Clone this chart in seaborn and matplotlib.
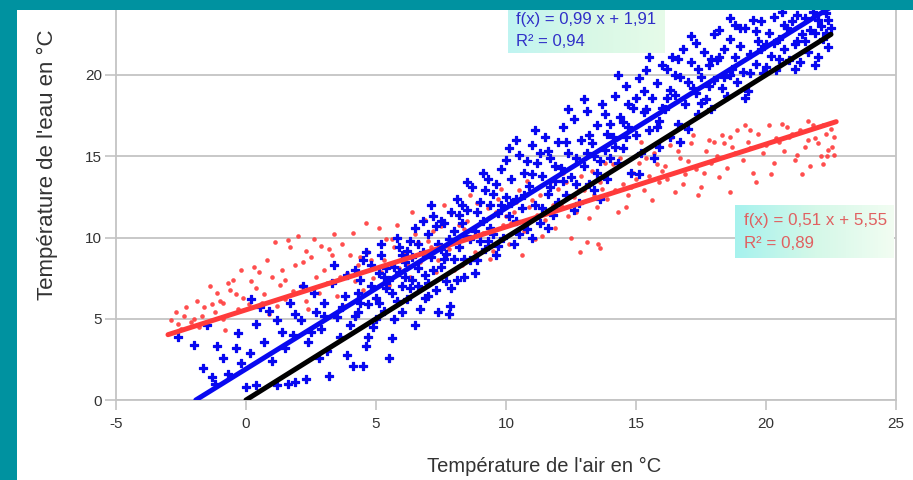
import numpy as np
import pandas as pd
import matplotlib
matplotlib.use("Agg")
import matplotlib.pyplot as plt
from matplotlib.patches import Rectangle
from matplotlib.colors import LinearSegmentedColormap
import seaborn as sns

# ---------------- data ----------------
# blue series: (air temperature, water temperature)
blue_points = [
    (-2.6, 3.9), (-2.0, 3.4), (-1.1, 3.3), (-1.65, 2.0), (-1.3, 1.4), (-1.2, 1.0), (-0.4, 3.2), (-0.2, 2.3),
    (-0.7, 1.6), (-1.5, 4.6), (-0.9, 2.6), (-0.3, 4.1),
    (0.0, 0.8), (0.15, 2.9), (0.4, 0.9), (0.4, 4.7), (0.55, 5.7), (0.9, 5.5), (1.2, 4.9), (1.4, 4.2), (1.7, 6.0),
    (1.2, 0.9), (1.6, 1.0), (1.9, 1.1), (0.7, 3.6), (1.0, 2.4), (1.5, 3.2), (1.9, 5.3), (0.2, 6.2), (1.8, 4.0),
    (2.3, 1.3), (2.1, 4.9), (2.6, 6.6), (2.7, 5.4), (3.2, 1.5), (2.4, 3.6), (2.9, 4.4), (3.0, 6.0), (3.3, 7.2),
    (3.5, 5.1), (3.6, 3.9), (3.8, 6.4), (2.2, 7.0), (3.1, 3.0), (3.9, 7.7), (3.4, 8.3), (2.8, 2.6), (3.7, 5.7),
    (4.0, 4.6), (3.9, 2.8), (3.0, 5.2), (2.5, 4.2), (4.7, 3.9),
    (4.1, 2.1), (4.5, 2.1), (4.6, 3.3), (4.2, 5.2), (4.3, 6.6), (4.4, 7.4), (4.5, 8.6), (4.7, 5.9), (4.8, 7.0),
    (4.9, 4.5), (5.0, 6.3), (5.1, 7.8), (5.2, 8.9), (5.3, 5.5), (5.4, 6.9), (5.5, 7.4), (5.6, 3.8), (5.7, 8.2),
    (5.8, 6.1), (5.9, 9.4), (6.0, 7.0), (4.2, 8.0), (4.6, 9.1), (5.0, 5.0), (5.3, 7.6), (5.6, 6.6), (5.8, 10.0),
    (6.0, 5.4), (4.4, 6.0), (5.2, 9.6), (5.5, 2.6), (5.9, 7.9), (4.3, 5.4), (4.8, 8.3), (5.1, 6.0), (5.4, 8.1),
    (5.7, 5.0), (6.0, 8.9),
    (6.1, 8.5), (6.2, 6.2), (6.3, 9.8), (6.4, 7.4), (6.5, 10.6), (6.6, 8.1), (6.7, 5.6), (6.8, 9.1), (6.9, 7.7),
    (7.0, 10.2), (7.1, 8.8), (7.2, 11.3), (7.3, 6.8), (7.4, 9.6), (7.5, 8.2), (7.6, 10.9), (7.7, 7.3), (7.8, 9.9),
    (7.9, 11.6), (8.0, 8.7), (6.2, 9.2), (6.5, 4.6), (6.8, 11.0), (7.0, 6.4), (7.3, 10.7), (7.6, 8.7), (7.9, 6.9),
    (6.4, 8.8), (7.1, 12.0), (7.5, 9.3), (7.8, 5.3), (6.6, 7.0), (7.4, 5.4), (8.0, 10.4), (7.85, 5.8),
    (6.3, 6.9), (6.6, 9.6), (6.9, 6.3), (7.2, 8.0), (7.5, 11.0), (7.7, 9.0), (6.1, 7.6), (7.0, 7.2),
    (8.1, 12.4), (8.2, 9.4), (8.3, 10.9), (8.4, 7.6), (8.5, 11.7), (8.6, 9.9), (8.7, 13.1), (8.8, 10.4), (8.9, 8.6),
    (9.0, 12.2), (9.1, 11.0), (9.2, 9.3), (9.3, 13.6), (9.4, 10.6), (9.5, 12.7), (9.6, 8.9), (9.7, 11.5),
    (9.8, 14.2), (9.9, 10.0), (10.0, 12.5), (8.2, 11.4), (8.5, 13.4), (8.8, 7.8), (9.1, 14.0), (9.4, 12.0),
    (9.7, 9.5), (10.0, 14.8), (8.4, 10.1), (9.0, 9.8), (9.6, 13.3), (8.1, 7.4), (8.3, 12.0), (8.6, 8.6),
    (8.9, 11.6), (9.2, 12.9), (9.5, 10.2), (9.8, 12.0), (8.4, 8.7), (9.3, 9.8),
    (10.1, 11.3), (10.2, 13.6), (10.3, 9.6), (10.4, 12.4), (10.5, 15.1), (10.6, 11.8), (10.7, 14.0), (10.8, 10.5),
    (10.9, 13.2), (11.0, 15.7), (11.1, 12.0), (11.2, 14.6), (11.3, 10.9), (11.4, 13.8), (11.5, 16.2), (11.6, 12.7),
    (11.7, 14.9), (11.8, 11.4), (11.9, 13.5), (12.0, 15.9), (10.2, 12.1), (10.5, 10.2), (10.8, 14.7), (11.1, 16.6),
    (11.4, 11.8), (11.7, 13.1), (12.0, 12.2), (10.4, 16.0), (11.0, 10.0), (11.6, 15.3), (10.1, 15.5), (10.4, 11.0),
    (10.7, 12.6), (11.0, 13.9), (11.3, 15.2), (11.6, 10.6), (11.9, 14.4),
    (12.1, 14.3), (12.2, 16.8), (12.3, 12.6), (12.4, 15.2), (12.5, 13.7), (12.6, 17.3), (12.7, 14.9), (12.8, 12.1),
    (12.9, 16.0), (13.0, 14.4), (13.1, 17.8), (13.2, 13.3), (13.3, 15.8), (13.4, 12.9), (13.5, 16.9), (13.6, 14.7),
    (13.7, 18.2), (13.8, 15.4), (13.9, 13.6), (14.0, 17.0), (12.2, 13.5), (12.6, 11.7), (13.0, 18.5), (13.4, 15.0),
    (13.8, 17.6), (12.4, 17.9), (13.2, 16.3), (13.6, 12.4), (14.0, 14.9), (12.3, 15.9), (12.7, 13.3), (13.1, 15.2),
    (13.5, 14.0), (13.9, 16.4),
    (14.1, 16.2), (14.2, 18.7), (14.3, 14.6), (14.4, 17.4), (14.5, 15.5), (14.6, 19.3), (14.7, 16.8), (14.8, 14.0),
    (14.9, 18.0), (15.0, 16.3), (15.1, 19.8), (15.2, 15.2), (15.3, 17.7), (15.4, 20.3), (15.5, 16.6), (15.6, 18.6),
    (15.7, 14.9), (15.8, 19.5), (15.9, 17.2), (16.0, 20.6), (14.3, 20.0), (14.7, 18.2), (15.1, 13.9), (15.5, 21.1),
    (15.9, 15.6), (14.5, 17.1), (15.3, 19.0), (16.0, 18.0), (14.2, 15.6), (14.6, 16.2), (15.0, 18.6), (15.4, 17.9),
    (15.8, 16.8),
    (16.1, 17.9), (16.2, 20.4), (16.3, 16.2), (16.4, 21.1), (16.5, 18.8), (16.6, 17.0), (16.7, 19.9), (16.8, 21.6),
    (16.9, 18.2), (17.0, 16.7), (17.1, 20.8), (17.2, 19.2), (17.3, 22.0), (17.4, 17.6), (17.5, 19.9), (17.6, 21.4),
    (17.7, 18.5), (17.8, 20.6), (17.9, 17.9), (18.0, 22.5), (16.3, 19.1), (16.7, 15.9), (17.1, 22.4), (17.5, 18.3),
    (17.9, 21.0), (16.5, 20.0), (17.3, 18.9), (18.0, 19.7), (16.2, 18.6), (16.6, 21.0), (17.0, 19.6), (17.4, 20.4),
    (17.8, 19.3),
    (18.1, 20.9), (18.2, 22.8), (18.3, 19.2), (18.4, 21.6), (18.5, 18.7), (18.6, 22.2), (18.7, 20.4), (18.8, 23.1),
    (18.9, 19.6), (19.0, 21.8), (19.1, 20.2), (19.2, 22.9), (19.3, 19.0), (19.4, 21.3), (19.5, 23.4), (19.6, 20.7),
    (19.7, 22.1), (19.8, 23.3), (19.9, 20.1), (20.0, 21.9), (18.4, 19.9), (18.8, 21.1), (19.2, 18.6), (19.6, 22.7),
    (20.0, 20.5), (18.6, 23.5), (18.2, 21.1), (18.6, 20.0), (19.0, 22.9), (19.4, 20.1), (19.8, 21.6),
    (20.1, 22.6), (20.2, 21.2), (20.3, 23.6), (20.4, 20.3), (20.5, 22.2), (20.6, 23.9), (20.7, 21.6), (20.8, 22.9),
    (20.9, 20.9), (21.0, 23.3), (21.1, 21.9), (21.2, 23.7), (21.3, 20.8), (21.4, 22.5), (21.5, 23.5), (21.6, 21.4),
    (21.7, 22.8), (21.8, 23.9), (21.9, 20.6), (22.0, 21.1), (22.1, 23.0), (22.2, 22.2), (22.3, 23.8), (22.4, 21.7),
    (22.5, 22.9), (20.5, 21.0), (21.2, 22.1), (22.0, 23.4), (22.4, 23.4), (20.3, 22.0), (20.7, 23.1), (21.1, 20.4),
    (21.5, 22.1), (21.9, 22.6), (22.3, 22.6),
]

# red series: (air temperature, water temperature)
red_points = [
    (-2.9, 4.9), (-2.7, 5.4), (-2.5, 4.4), (-2.3, 5.7), (-2.1, 4.8), (-1.9, 6.1), (-1.7, 5.2), (-1.5, 4.6),
    (-1.3, 5.9), (-1.1, 6.6), (-0.9, 5.0), (-0.7, 7.2), (-0.5, 7.4), (-0.3, 5.6), (-0.1, 6.3), (-2.0, 5.0),
    (-1.4, 7.0), (-0.8, 4.3), (-0.2, 8.0), (-1.0, 6.1), (-2.6, 4.7), (-0.6, 6.8), (-1.6, 5.7), (-0.9, 6.0),
    (-2.4, 5.2), (-1.8, 4.5), (-1.2, 5.4), (-0.4, 6.5),
    (0.1, 5.9), (0.3, 8.2), (0.5, 7.9), (0.7, 6.5), (0.9, 5.3), (1.1, 9.7), (1.3, 7.1), (1.5, 6.2), (1.6, 9.85),
    (1.7, 9.4), (1.9, 8.3), (2.1, 7.0), (2.3, 6.1), (2.5, 8.8), (2.7, 7.6), (2.9, 9.5), (0.4, 6.9), (0.8, 8.6),
    (1.2, 5.8), (2.0, 10.1), (2.4, 5.6), (2.8, 6.6), (0.2, 7.3), (1.4, 8.0), (2.6, 9.9), (1.0, 7.6), (1.8, 6.7),
    (2.2, 8.5), (0.6, 6.0), (1.5, 7.4), (2.3, 9.2),
    (3.1, 7.2), (3.3, 8.9), (3.5, 6.4), (3.7, 9.6), (3.9, 7.8), (4.1, 10.3), (4.3, 8.3), (4.5, 6.8), (4.7, 9.1),
    (4.9, 7.5), (5.1, 10.6), (5.3, 8.6), (5.5, 7.1), (5.7, 9.4), (5.9, 8.1), (3.4, 10.2), (3.8, 5.8), (4.2, 7.3),
    (4.6, 10.9), (5.0, 6.2), (5.4, 9.9), (5.8, 10.8), (3.0, 8.0), (4.4, 8.8), (5.2, 7.9), (5.6, 8.4),
    (3.2, 9.3), (3.6, 7.6), (4.0, 8.9), (4.8, 8.6), (5.6, 9.9),
    (6.1, 9.0), (6.3, 7.6), (6.5, 10.2), (6.7, 8.5), (6.9, 11.1), (7.1, 9.4), (7.3, 7.9), (7.5, 10.7), (7.7, 8.9),
    (7.9, 11.5), (8.1, 9.7), (8.3, 8.3), (8.5, 11.0), (8.7, 10.0), (8.9, 12.1), (6.4, 11.6), (6.8, 6.9),
    (7.2, 10.4), (7.6, 12.0), (8.0, 8.0), (8.4, 10.5), (8.8, 9.1), (6.2, 8.4), (7.0, 9.8), (7.8, 9.3), (8.6, 12.6),
    (6.6, 9.7), (7.4, 8.6), (8.2, 10.8),
    (9.1, 10.3), (9.3, 11.8), (9.5, 9.2), (9.7, 12.4), (9.9, 10.8), (10.1, 9.6), (10.3, 11.6), (10.5, 12.9),
    (10.7, 10.4), (10.9, 11.9), (11.1, 9.9), (11.3, 12.6), (11.5, 11.1), (11.7, 13.4), (11.9, 10.6), (9.4, 8.7),
    (9.8, 13.0), (10.2, 10.9), (10.6, 8.9), (11.0, 12.3), (11.4, 10.1), (11.8, 12.0), (9.2, 11.1), (10.0, 11.3),
    (10.8, 13.5), (11.6, 11.6), (9.6, 11.6), (10.4, 12.2), (11.2, 11.4),
    (12.1, 12.0), (12.3, 13.4), (12.5, 10.0), (12.7, 11.6), (12.85, 9.1), (13.0, 12.9), (13.1, 9.7), (13.3, 14.1),
    (13.5, 11.9), (13.6, 9.35), (13.7, 13.0), (13.9, 12.4), (14.1, 14.5), (14.3, 11.6), (14.5, 13.3), (14.7, 12.6),
    (14.9, 14.0), (12.2, 14.0), (12.6, 12.5), (13.2, 11.2), (13.8, 14.6), (14.2, 12.9), (14.6, 11.9), (15.0, 13.6),
    (12.9, 13.8), (13.4, 12.6), (14.4, 14.9), (12.4, 11.3), (13.55, 9.6), (12.0, 13.0), (12.8, 12.9), (13.6, 13.4),
    (14.8, 13.1),
    (15.1, 14.6), (15.3, 12.9), (15.5, 13.8), (15.7, 15.2), (15.9, 13.4), (16.1, 14.4), (16.3, 15.7), (16.5, 12.8),
    (16.7, 14.9), (16.9, 13.9), (17.1, 15.8), (17.3, 14.2), (17.5, 13.1), (17.7, 15.3), (17.9, 14.6), (15.2, 15.9),
    (15.6, 12.3), (16.0, 14.1), (16.4, 16.2), (16.8, 13.3), (17.2, 16.3), (17.6, 14.0), (18.0, 15.9), (15.8, 14.5),
    (16.6, 15.3), (17.4, 12.6), (15.4, 14.9), (16.2, 13.6), (17.0, 14.7), (17.8, 16.0),
    (18.1, 15.0), (18.3, 16.3), (18.5, 14.3), (18.6, 12.8), (18.7, 15.6), (18.9, 16.6), (19.1, 14.8), (19.3, 15.9),
    (19.5, 14.0), (19.7, 16.4), (19.9, 15.2), (20.1, 16.9), (20.3, 14.6), (18.2, 13.7), (18.8, 15.2), (19.2, 16.9),
    (19.6, 13.4), (20.0, 15.7), (20.4, 16.1), (18.4, 15.8), (19.4, 15.5), (20.2, 13.9), (18.6, 16.2), (19.4, 16.6),
    (20.6, 17.0), (20.7, 15.3), (20.9, 16.2), (21.1, 14.8), (21.3, 16.6), (21.5, 15.6), (21.6, 17.2), (21.7, 14.4),
    (21.9, 16.1), (22.1, 15.0), (22.2, 14.5), (22.3, 16.4), (22.4, 15.4), (22.5, 16.7), (22.6, 15.1), (20.8, 16.8),
    (21.2, 15.1), (21.8, 16.9), (22.0, 15.8), (22.6, 16.2), (21.4, 13.9), (22.35, 15.0), (20.5, 15.9), (21.0, 16.4),
    (21.6, 16.0), (22.2, 16.9), (22.55, 15.6),
]

# trend lines shown on the chart: slope, intercept, x extent
blue_trend = {"slope": 0.99, "intercept": 1.91, "x": [-1.93, 22.6]}
red_trend = {"slope": 0.51, "intercept": 5.55, "x": [-3.0, 22.7]}
identity_x = [0.0, 22.5]   # black reference line y = x

blue_label = ["f(x) = 0,99 x + 1,91", "R² = 0,94"]
red_label = ["f(x) = 0,51 x + 5,55", "R² = 0,89"]

x_ticks = [-5, 0, 5, 10, 15, 20, 25]
y_ticks = [0, 5, 10, 15, 20]
x_title = "Température de l'air en °C"
y_title = "Température de l'eau en °C"

# ---------------- build frames ----------------
blue_df = pd.DataFrame(blue_points, columns=["air", "eau"])
red_df = pd.DataFrame(red_points, columns=["air", "eau"])

def trend_df(t):
    xs = np.array(t["x"])
    return pd.DataFrame({"air": xs, "eau": t["slope"] * xs + t["intercept"]})

blue_line = trend_df(blue_trend)
red_line = trend_df(red_trend)
black_line = pd.DataFrame({"air": identity_x, "eau": identity_x})

# ---------------- style ----------------
sns.set_theme(style="white")
plt.rcParams['font.family'] = ['Liberation Sans', 'DejaVu Sans']
plt.rcParams['axes.unicode_minus'] = False

BLUE = "#0808f0"
RED = "#ff3b3b"
TEAL = "#0092a0"
GRID = "#c4c4c4"

fig = plt.figure(figsize=(9.13, 4.8), dpi=100)
fig.patch.set_facecolor("white")
ax = fig.add_axes([116 / 913, 80 / 480, 780 / 913, 390 / 480])
ax.set_facecolor("white")

# gradient label boxes (behind marks)
grad_blue = LinearSegmentedColormap.from_list("gb", ["#bff4f2", "#d8f8e6", "#e6fbe9"])
grad_red = LinearSegmentedColormap.from_list("gr", ["#a6f2ee", "#d4f8e8", "#f2fdf2"])
g = np.linspace(0, 1, 256).reshape(1, -1)
ax.imshow(g, cmap=grad_blue, extent=[10.08, 16.1, 21.35, 24.2], aspect="auto", zorder=1)
ax.imshow(g, cmap=grad_red, extent=[18.8, 24.9, 8.74, 12.0], aspect="auto", zorder=1)

sns.scatterplot(data=red_df, x="air", y="eau", ax=ax, color=RED, marker="o", s=11,
                linewidth=0, alpha=0.9, zorder=3, legend=False)
sns.scatterplot(data=blue_df, x="air", y="eau", ax=ax, color=BLUE, marker="P", s=34,
                linewidth=0.9, edgecolor=BLUE, zorder=4, legend=False)
sns.lineplot(data=red_line, x="air", y="eau", ax=ax, color=RED, lw=3.6, zorder=5)
sns.lineplot(data=black_line, x="air", y="eau", ax=ax, color="black", lw=3.6, zorder=5)
sns.lineplot(data=blue_line, x="air", y="eau", ax=ax, color=BLUE, lw=3.6, zorder=6)

ax.set_xlim(-5, 25)
ax.set_ylim(0, 24)
ax.set_xticks(x_ticks)
ax.set_yticks(y_ticks)
ax.yaxis.grid(True, color=GRID, lw=1.3, zorder=0)
ax.xaxis.grid(False)
ax.set_axisbelow(True)
for side in ["left", "right", "bottom"]:
    ax.spines[side].set_visible(True)
    ax.spines[side].set_color(GRID)
    ax.spines[side].set_linewidth(1.3)
ax.spines["top"].set_visible(False)
ax.tick_params(axis="y", left=True, length=8, width=1.2, color=GRID, labelsize=11,
               labelcolor="#333333", pad=2)
ax.tick_params(axis="x", bottom=True, length=7, width=1.2, color=GRID, labelsize=11,
               labelcolor="#333333", pad=5)

ax.set_xlabel(x_title, fontsize=14.5, color="#333333")
ax.set_ylabel(y_title, fontsize=16, color="#333333")
ax.xaxis.set_label_coords((544 - 116) / 780, (400 - 466) / 390)
ax.yaxis.set_label_coords((47 - 116) / 780, (400 - 165) / 390)
ax.xaxis.label.set_va("center")
ax.yaxis.label.set_va("center")

# regression labels
ax.text(10.4, 23.4, blue_label[0], color="#3030c8", fontsize=12, va="center", zorder=7)
ax.text(10.4, 22.05, blue_label[1], color="#3030c8", fontsize=12, va="center", zorder=7)
ax.text(19.15, 11.05, red_label[0], color="#e06060", fontsize=12.2, va="center", zorder=7)
ax.text(19.15, 9.65, red_label[1], color="#e06060", fontsize=12.2, va="center", zorder=7)

# teal frame of the screenshot
fig.add_artist(Rectangle((0, 470 / 480), 1, 10 / 480, transform=fig.transFigure,
                         color=TEAL, zorder=20, lw=0))
fig.add_artist(Rectangle((0, 0), 17 / 913, 1, transform=fig.transFigure,
                         color=TEAL, zorder=20, lw=0))

fig.savefig("out.png", dpi=100)
